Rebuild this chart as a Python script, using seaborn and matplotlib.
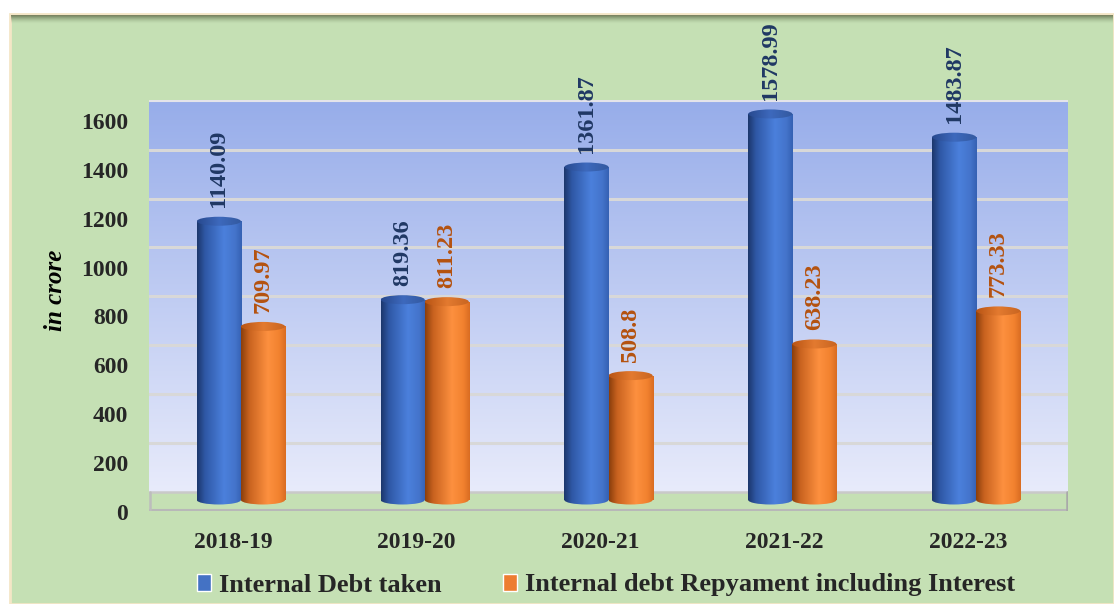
import numpy as np
import pandas as pd
import matplotlib
matplotlib.use("Agg")
import matplotlib.pyplot as plt
import seaborn as sns
from matplotlib.patches import Rectangle, Ellipse
from matplotlib.colors import to_rgb
from matplotlib.transforms import ScaledTranslation

# ---- data ----
years = ["2018-19", "2019-20", "2020-21", "2021-22", "2022-23"]
debt_taken = [1140.09, 819.36, 1361.87, 1578.99, 1483.87]
debt_repaid = [709.97, 811.23, 508.8, 638.23, 773.33]
series_names = ["Internal Debt taken", "Internal debt Repyament including Interest"]
yticks = [0, 200, 400, 600, 800, 1000, 1200, 1400, 1600]

df = pd.DataFrame({
    "year": years * 2,
    "value": debt_taken + debt_repaid,
    "series": [series_names[0]] * len(years) + [series_names[1]] * len(years),
})

BLUE = "#4472c4"
ORANGE = "#ed7d31"
BG_GREEN = "#c5e0b4"
SERIF = ["Liberation Serif", "DejaVu Serif"]

sns.set_theme(style="white")
plt.rcParams["font.family"] = SERIF

fig = plt.figure(figsize=(11.14, 6.04), dpi=100)
fig.patch.set_facecolor("white")

# outer green panel with beige rim and a soft shadow along its top edge
panel = Rectangle((10 / 1114, 0), 1 - 10 / 1114, 1 - 14 / 604, transform=fig.transFigure,
                  facecolor=BG_GREEN, edgecolor="#f4e6c6", linewidth=2, zorder=-10)
fig.patches.append(panel)
fade = np.linspace(0, 1, 40)
shade_rgba = np.zeros((40, 1, 4))
shade_rgba[..., :3] = to_rgb("#5d6a48")
shade_rgba[:, 0, 3] = (1 - fade) ** 1.6 * 0.85
sax = fig.add_axes([11 / 1114, 1 - 24 / 604, 1 - 12 / 1114, 9 / 604])
sax.imshow(shade_rgba, aspect="auto", extent=[0, 1, 0, 1])
sax.set_axis_off()

ax = fig.add_axes([149 / 1114, 1 - 511 / 604, 919 / 1114, 411 / 604])
YMIN, YMAX = -45, 1636
WALL0 = 33  # back-wall baseline in bar coordinates

# back wall gradient
wall = np.linspace(0, 1, 256).reshape(-1, 1)
top_c, bot_c = np.array(to_rgb("#97adea")), np.array(to_rgb("#e8ebfb"))
wall_rgb = (top_c * (1 - wall[..., None]) + bot_c * wall[..., None])
ax.imshow(wall_rgb, aspect="auto", extent=[-0.5, 4.5, WALL0, YMAX], zorder=0)
for v in yticks[1:-1]:
    ax.axhline(v + WALL0, color="#d8d8d8", lw=2.2, zorder=1)
ax.axhline(1600 + WALL0, color="#e4e4ea", lw=1.5, zorder=1)

# floor
ax.add_patch(Rectangle((-0.5, YMIN), 5.0, WALL0 - YMIN, facecolor=BG_GREEN,
                       edgecolor="none", zorder=1))
ax.axhline(WALL0, color="#c9c9c9", lw=1.8, zorder=1.5)
ax.axhline(YMIN + 3, color="#b8b8b8", lw=2.2, zorder=1.5)
ax.plot([-0.497, -0.497], [YMIN, WALL0], color="#bdbdbd", lw=1.8, zorder=1.5)
ax.plot([4.497, 4.497], [YMIN, WALL0], color="#a9a9a9", lw=1.8, zorder=1.5)

sns.barplot(data=df, x="year", y="value", hue="series", palette=[BLUE, ORANGE],
            width=0.48, dodge=True, saturation=1, legend=False, ax=ax, zorder=3)


def grad_row(stops):
    xs = np.linspace(0, 1, 200)
    pos = [s[0] for s in stops]
    cols = np.array([to_rgb(s[1]) for s in stops])
    row = np.stack([np.interp(xs, pos, cols[:, i]) for i in range(3)], axis=-1)
    return row[None, :, :]


blue_body = grad_row([(0, "#1c376c"), (0.18, "#2f58a6"), (0.6, "#4b80dc"), (0.85, "#4474cb"), (1, "#3561b3")])
orange_body = grad_row([(0, "#8a3e0c"), (0.18, "#c8621f"), (0.6, "#fd903f"), (0.85, "#f2822f"), (1, "#d96c22")])
blue_cap = grad_row([(0, "#27498e"), (0.5, "#3d69bd"), (1, "#33599f")])
orange_cap = grad_row([(0, "#b85414"), (0.5, "#e37a30"), (1, "#c86420")])

cap_h = 9 / 0.2445  # cap height in data units
bars = list(ax.patches)[-2 * len(years):]
for i, bar in enumerate(bars):
    is_blue = i < len(years)
    body = blue_body if is_blue else orange_body
    cap = blue_cap if is_blue else orange_cap
    x0, w, h = bar.get_x(), bar.get_width(), bar.get_height()
    xc = x0 + w / 2
    bar.set_visible(False)
    # rounded base
    base = Ellipse((xc, 0), w, cap_h, transform=ax.transData, facecolor="none", edgecolor="none")
    ax.add_patch(base)
    im = ax.imshow(body, aspect="auto", extent=[x0, x0 + w, -cap_h, cap_h], zorder=3)
    im.set_clip_path(base)
    # body
    rect = Rectangle((x0, 0), w, h, transform=ax.transData, facecolor="none", edgecolor="none")
    ax.add_patch(rect)
    im = ax.imshow(body, aspect="auto", extent=[x0, x0 + w, 0, h], zorder=3.1)
    im.set_clip_path(rect)
    # top cap
    top = Ellipse((xc, h), w, cap_h, transform=ax.transData, facecolor="none", edgecolor="none")
    ax.add_patch(top)
    im = ax.imshow(cap, aspect="auto", extent=[x0, x0 + w, h - cap_h, h + cap_h], zorder=3.2)
    im.set_clip_path(top)
    # value label
    ax.annotate(f"{h:g}", (xc, h), xytext=(0, 10), textcoords="offset points",
                rotation=90, ha="center", va="bottom", fontsize=17.5, fontweight="bold",
                color="#203864" if is_blue else "#b4520f", zorder=5, annotation_clip=False)

ax.set_xlim(-0.5, 4.5)
ax.set_ylim(YMIN, YMAX)
ax.set_yticks(yticks)
ax.set_xlabel("")
ax.set_ylabel("")
for s in ax.spines.values():
    s.set_visible(False)
ax.set_facecolor("none")
ax.tick_params(axis="y", length=0, pad=15, labelsize=17)
ax.tick_params(axis="x", length=0, pad=15, labelsize=17)
for lab in ax.get_yticklabels():
    lab.set_fontweight("bold")
    lab.set_transform(lab.get_transform() + ScaledTranslation(0, -12 / 100, fig.dpi_scale_trans))
for lab in ax.get_xticklabels():
    lab.set_fontweight("bold")
    lab.set_transform(lab.get_transform() + ScaledTranslation(-8 / 100, 0, fig.dpi_scale_trans))

fig.text(55 / 1114, 1 - 290 / 604, "in crore", rotation=90, ha="center", va="center",
         fontsize=18, fontweight="bold", fontstyle="italic", color="black")

handles = [Rectangle((0, 0), 1, 1, facecolor=BLUE), Rectangle((0, 0), 1, 1, facecolor=ORANGE)]
fig.legend(handles, series_names, loc="center", bbox_to_anchor=(606 / 1114, 1 - 585 / 604),
           ncol=2, frameon=False, handlelength=0.55, handleheight=0.6, handletextpad=0.3,
           columnspacing=2.3, prop={"family": SERIF, "weight": "bold", "size": 19})

fig.savefig("out.png", dpi=100, facecolor=fig.get_facecolor())
